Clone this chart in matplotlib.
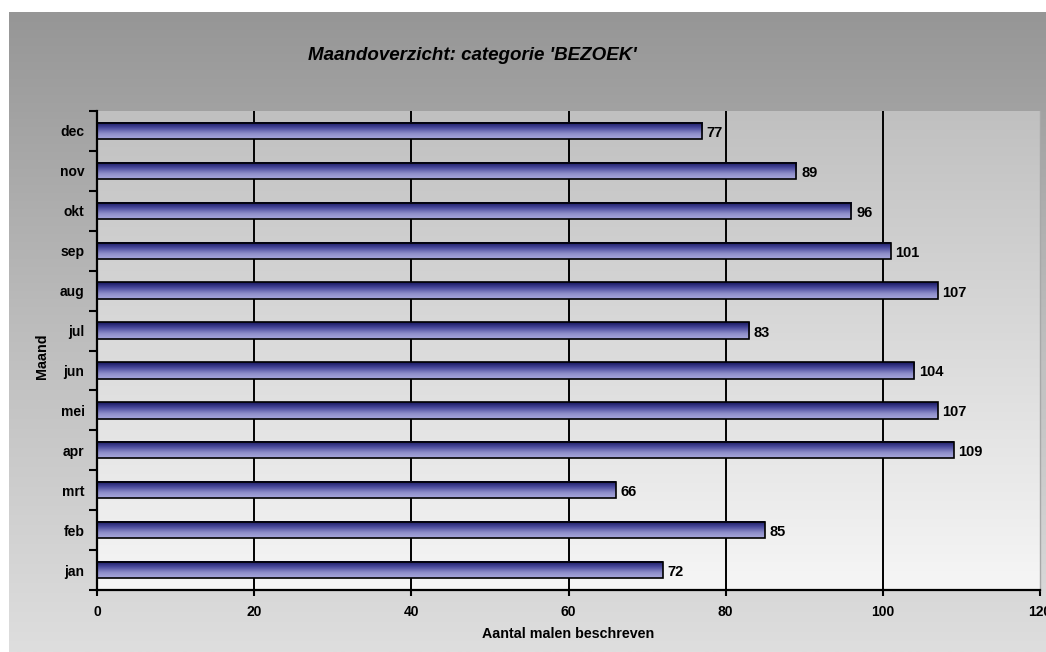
import numpy as np
import matplotlib
matplotlib.use("Agg")
import matplotlib.pyplot as plt
from matplotlib.colors import LinearSegmentedColormap

plt.rcParams['font.family'] = ['Liberation Sans', 'DejaVu Sans']

months = ['jan', 'feb', 'mrt', 'apr', 'mei', 'jun', 'jul', 'aug', 'sep', 'okt', 'nov', 'dec']
counts = [72, 85, 66, 109, 107, 104, 83, 107, 101, 96, 89, 77]
x_ticks = [0, 20, 40, 60, 80, 100, 120]

title = "Maandoverzicht: categorie 'BEZOEK'"
x_label = "Aantal malen beschreven"
y_label = "Maand"

W, H = 1046, 652
fig = plt.figure(figsize=(W / 100, H / 100), dpi=100, facecolor='white')

# grey gradient background of the chart object
bg = fig.add_axes([9 / W, 0, 1 - 9 / W, 1 - 12 / H], zorder=-10)
bg.imshow(np.linspace(0, 1, 256).reshape(-1, 1), aspect='auto',
          cmap=LinearSegmentedColormap.from_list('bg', ['#969696', '#bdbdbd', '#dedede']),
          extent=[0, 1, 0, 1], origin='upper')
bg.set_axis_off()

left, right, top, bottom = 97, 1040, 111, 590
ax = fig.add_axes([left / W, 1 - bottom / H, (right - left) / W, (bottom - top) / H])
ax.set_xlim(0, 120)
ax.set_ylim(-0.5, len(months) - 0.5)

# plot area gradient
ax.imshow(np.linspace(0, 1, 256).reshape(-1, 1), aspect='auto',
          cmap=LinearSegmentedColormap.from_list('pa', ['#c0c0c0', '#f6f6f6']),
          extent=[0, 120, -0.5, len(months) - 0.5], origin='upper', zorder=0)

for xv in x_ticks[1:-1]:
    ax.axvline(xv, color='black', lw=1.4, zorder=1)

ypos = np.arange(len(months))
bars = ax.barh(ypos, counts, height=0.41, facecolor='none', edgecolor='black',
               lw=1.2, zorder=3)
bar_cmap = LinearSegmentedColormap.from_list('bar', ['#16165e', '#4a4a9c', '#8c8cc8', '#a8a8dc'])
for b in bars:
    x0, y0, w, h = b.get_x(), b.get_y(), b.get_width(), b.get_height()
    ax.imshow(np.linspace(0, 1, 64).reshape(-1, 1), aspect='auto', cmap=bar_cmap,
              extent=[x0, x0 + w, y0, y0 + h], origin='upper', zorder=2)

for y, v in zip(ypos, counts):
    ax.text(v + 0.6, y - 0.05, str(v), ha='left', va='center',
            fontsize=10.5, fontweight='bold', zorder=4)

ax.set_xlim(0, 120)
ax.set_ylim(-0.5, len(months) - 0.5)

ax.set_xticks(x_ticks)
ax.set_xticklabels([str(t) for t in x_ticks], fontsize=10, fontweight='bold')
ax.tick_params(axis='x', direction='out', length=4, width=1.5, pad=7)

ax.set_yticks(np.arange(len(months) + 1) - 0.5)
ax.set_yticklabels([])
ax.set_yticks(ypos, minor=True)
ax.set_yticklabels(months, minor=True, fontsize=10, fontweight='bold')
ax.tick_params(axis='y', which='major', direction='out', length=6, width=1.5)
ax.tick_params(axis='y', which='minor', length=0, pad=9)

for s in ['left', 'bottom']:
    ax.spines[s].set_linewidth(1.6)
    ax.spines[s].set_color('black')
ax.spines['top'].set_visible(False)
ax.spines['right'].set_color('#a8a8a8')
ax.spines['right'].set_linewidth(1.0)

fig.text(472 / W, 1 - 56 / H, title, ha='center', va='center',
         fontsize=13.5, fontweight='bold', fontstyle='italic')
fig.text(568 / W, 1 - 634 / H, x_label, ha='center', va='center',
         fontsize=10.3, fontweight='bold')
fig.text(42 / W, 1 - 356 / H, y_label, ha='center', va='center', rotation=90,
         fontsize=10.3, fontweight='bold')

fig.savefig('out.png', dpi=100)
